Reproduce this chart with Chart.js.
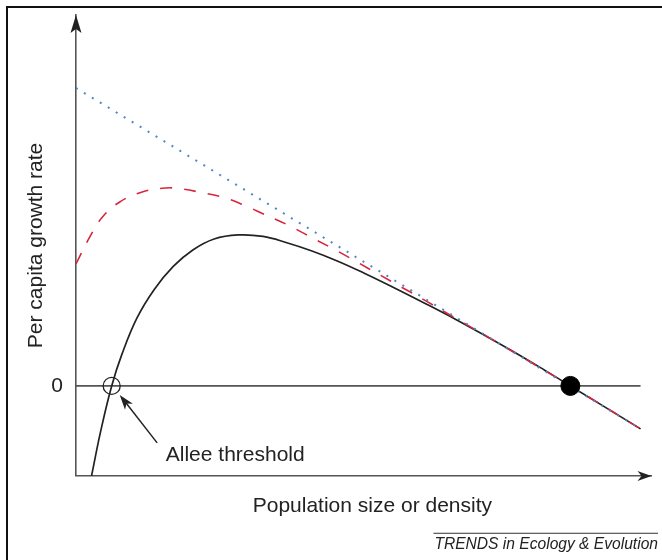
<!DOCTYPE html>
<html>
<head>
<meta charset="utf-8">
<script src="https://cdn.jsdelivr.net/npm/chart.js@4.4.1/dist/chart.umd.min.js"></script>
<style>
  html, body { margin: 0; padding: 0; background: #fff; }
  #wrap { width: 662px; height: 560px; }
</style>
</head>
<body>
<div id="wrap"><canvas id="myChart" width="662" height="560"></canvas></div>
<script>
// values (x: population size 0-100, y: per capita growth rate)
const alleeX = [2.7, 4.3, 6.2, 8.0, 10.6, 13.6, 16.9, 20.3, 24.0, 28.2, 32.5, 36.5, 41.0, 45.4, 50.0, 55.0, 60.5, 66.0, 71.5, 77.0, 81.5, 85.9, 98.1];
const alleeY = [-9.0, -4.5, 0, 3.2, 6.8, 9.65, 11.95, 13.6, 14.7, 15.1, 14.95, 14.35, 13.5, 12.5, 11.3, 9.9, 8.3, 6.65, 4.9, 3.1, 1.55, 0, -4.3];

const weakX = [0, 2.4, 4.6, 7.6, 11.5, 15.6, 18.4, 21.3, 25.9, 29.9, 32.2, 36.8, 41.4, 45.4, 48.8, 52.8, 56.5, 60.8, 66.0, 72.0, 85.9, 98.1];
const weakY = [12.2, 14.9, 16.9, 18.4, 19.4, 19.8, 19.7, 19.4, 18.8, 17.9, 17.3, 16.1, 14.7, 13.5, 12.4, 11.1, 9.9, 8.5, 6.75, 4.75, 0, -4.3];

const logisticX = [0, 98.1];
const logisticY = [29.8, -4.3];

const zeroX = [0, 98.1];
const zeroY = [0, 0];

const thresholdPt = [6.2, 0];
const carryingPt = [85.9, 0];

const yTicks = [0];
const yTitle = 'Per capita growth rate';
const xTitle = 'Population size or density';
const noteText = 'Allee threshold';
const creditText = 'TRENDS in Ecology & Evolution';

const FONT = '"Liberation Sans", Arial, Helvetica, sans-serif';
const INK = '#222';

function pts(xs, ys) {
  return xs.map((x, i) => ({ x: x, y: ys[i] }));
}

function arrowHead(ctx, tx, ty, dx, dy, len, half, notch) {
  const nx = -dy, ny = dx;
  ctx.beginPath();
  ctx.moveTo(tx, ty);
  ctx.lineTo(tx + dx * len + nx * half, ty + dy * len + ny * half);
  ctx.lineTo(tx + dx * notch, ty + dy * notch);
  ctx.lineTo(tx + dx * len - nx * half, ty + dy * len - ny * half);
  ctx.closePath();
  ctx.fill();
}

const decor = {
  id: 'decor',
  beforeDraw(chart) {
    const ctx = chart.ctx;
    ctx.save();
    ctx.fillStyle = '#fff';
    ctx.fillRect(0, 0, chart.width, chart.height);
    // frame
    ctx.strokeStyle = '#111';
    ctx.lineWidth = 2;
    ctx.beginPath();
    ctx.moveTo(7, chart.height);
    ctx.lineTo(7, 7);
    ctx.lineTo(chart.width, 7);
    ctx.stroke();
    ctx.restore();
  },
  afterDraw(chart) {
    const ctx = chart.ctx;
    const a = chart.chartArea;
    const xs = chart.scales.x, ys = chart.scales.y;
    ctx.save();
    ctx.fillStyle = INK;
    // axis arrows
    arrowHead(ctx, a.left, a.top, 0, 1, 18, 5.5, 14);
    arrowHead(ctx, a.right, a.bottom, -1, 0, 14, 5, 10);

    // Allee threshold pointer
    const tipX = xs.getPixelForValue(7.6), tipY = ys.getPixelForValue(-0.9);
    const tailX = xs.getPixelForValue(14.1), tailY = ys.getPixelForValue(-5.7);
    const len = Math.hypot(tailX - tipX, tailY - tipY);
    const dx = (tailX - tipX) / len, dy = (tailY - tipY) / len;
    ctx.strokeStyle = INK;
    ctx.lineWidth = 1.5;
    ctx.beginPath();
    ctx.moveTo(tipX + dx * 10, tipY + dy * 10);
    ctx.lineTo(tailX, tailY);
    ctx.stroke();
    arrowHead(ctx, tipX, tipY, dx, dy, 15, 5, 11);

    ctx.font = '21px ' + FONT;
    ctx.textAlign = 'left';
    ctx.textBaseline = 'alphabetic';
    ctx.fillText(noteText, xs.getPixelForValue(15.6), ys.getPixelForValue(-7.47));

    // x axis title
    ctx.textAlign = 'center';
    ctx.textBaseline = 'middle';
    ctx.fillText(xTitle, xs.getPixelForValue(51.5), a.bottom + 30);

    // rule over the credit line
    const box = chart.boxes.find(b => b.options && b.options.text === creditText);
    if (box) {
      ctx.font = 'italic 15.6px ' + FONT;
      const w = ctx.measureText(creditText).width;
      ctx.strokeStyle = '#333';
      ctx.lineWidth = 1;
      ctx.beginPath();
      ctx.moveTo(box.right - w - 1, box.top + 2);
      ctx.lineTo(box.right, box.top + 2);
      ctx.stroke();
    }
    ctx.restore();
  }
};

const ctx = document.getElementById('myChart');

new Chart(ctx, {
  type: 'scatter',
  data: {
    datasets: [
      {
        label: 'Carrying capacity',
        data: pts([carryingPt[0]], [carryingPt[1]]),
        pointRadius: 9.5,
        pointBackgroundColor: '#000',
        pointBorderColor: '#000',
        pointBorderWidth: 1,
      },
      {
        label: 'Allee threshold',
        data: pts([thresholdPt[0]], [thresholdPt[1]]),
        pointRadius: 8.5,
        pointBackgroundColor: 'rgba(0,0,0,0)',
        pointBorderColor: INK,
        pointBorderWidth: 1.3,
      },
      {
        label: 'Logistic',
        data: pts(logisticX, logisticY),
        showLine: true,
        pointRadius: 0,
        borderColor: '#4f86c6',
        borderWidth: 2,
        borderDash: [2, 7.3],
      },
      {
        label: 'Weak Allee effect',
        data: pts(weakX, weakY),
        showLine: true,
        pointRadius: 0,
        borderColor: '#d7263d',
        borderWidth: 1.6,
        borderDash: [12, 12],
        tension: 0.4,
      },
      {
        label: 'Strong Allee effect',
        data: pts(alleeX, alleeY),
        showLine: true,
        pointRadius: 0,
        borderColor: INK,
        borderWidth: 1.7,
        tension: 0.4,
      },
      {
        label: 'Zero',
        data: pts(zeroX, zeroY),
        showLine: true,
        pointRadius: 0,
        borderColor: '#555',
        borderWidth: 1.6,
      },
    ],
  },
  options: {
    responsive: false,
    animation: false,
    events: [],
    layout: {
      padding: { left: 0, right: 4, top: 15, bottom: 0 },
    },
    scales: {
      x: {
        type: 'linear',
        min: 0,
        max: 100,
        grid: { display: false, drawTicks: false },
        border: { display: true, color: '#555', width: 1.6 },
        ticks: { display: false },
        afterFit: (scale) => {
          scale.height = 55.4;
          scale.paddingLeft = 0;
          scale.paddingRight = 0;
        },
      },
      y: {
        type: 'linear',
        min: -9,
        max: 37.1,
        grid: { display: false, drawTicks: false },
        border: { display: true, color: '#555', width: 1.6 },
        afterBuildTicks: (axis) => {
          axis.ticks = yTicks.map((v) => ({ value: v }));
        },
        ticks: {
          color: INK,
          padding: 13,
          font: { size: 21, family: FONT },
        },
        title: {
          display: true,
          text: yTitle,
          color: INK,
          font: { size: 21, family: FONT },
          padding: { top: 24, bottom: 0 },
        },
        afterFit: (scale) => {
          scale.width = 76;
          scale.paddingTop = 0;
          scale.paddingBottom = 0;
        },
      },
    },
    plugins: {
      legend: { display: false },
      tooltip: { enabled: false },
      subtitle: {
        display: true,
        position: 'bottom',
        align: 'end',
        text: creditText,
        color: INK,
        font: { size: 15.6, style: 'italic', family: FONT },
        padding: { top: 4, bottom: 6 },
      },
    },
  },
  plugins: [decor],
});
</script>
</body>
</html>
